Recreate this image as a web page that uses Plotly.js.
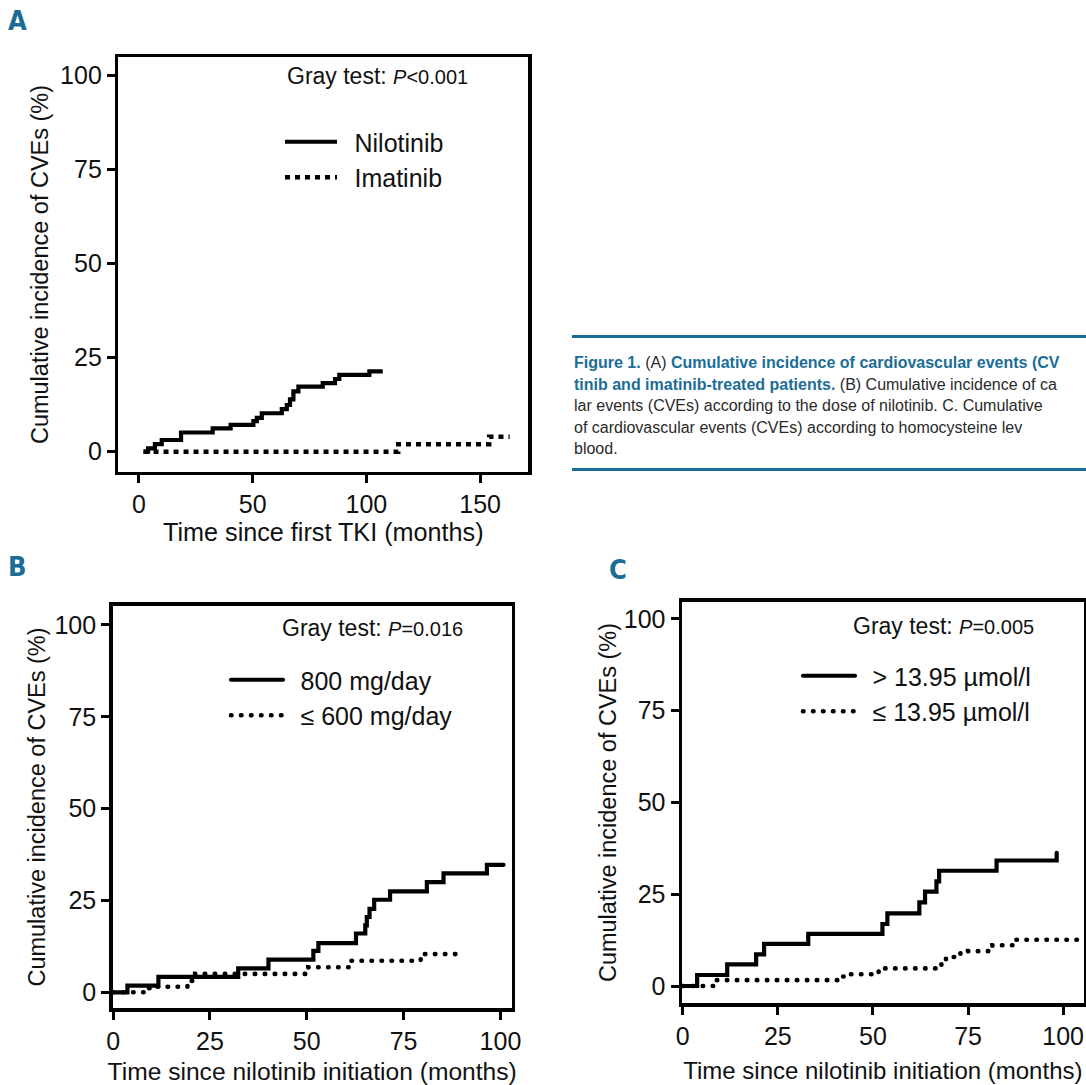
<!DOCTYPE html>
<html>
<head>
<meta charset="utf-8">
<script src="https://cdn.plot.ly/plotly-3.0.1.min.js"></script>
<style>
  html, body { margin: 0; padding: 0; background: #fff; }
  #chart { width: 1086px; height: 1085px; }
  .subplot.x2y2 .scatterlayer .js-line, .subplot.x3y3 .scatterlayer .js-line,
  g.legend2 path.js-line, g.legend3 path.js-line { stroke-linecap: round; }
</style>
</head>
<body>
<div id="chart"></div>
<script>
// ---- Panel A: time since first TKI (months) ----
const nilotinibX = [2, 4, 7, 10, 18.5, 32.4, 40.3, 50.3, 51.8, 54, 62.8, 65, 66.4, 67.9, 70.1, 80.8, 86.2, 88.1, 101.3, 107.2];
const nilotinibY = [0, 0.9, 2.0, 3.1, 5.1, 6.2, 7.1, 8.1, 9.0, 10.2, 11.3, 12.4, 13.9, 16.0, 17.3, 18.2, 19.3, 20.4, 21.3, 21.3];
const imatinibX = [2, 114, 154, 163];
const imatinibY = [0, 2.0, 4.0, 4.0];

// ---- Panel B: dose of nilotinib ----
const dose800X = [0, 3.7, 11.7, 32.3, 40.1, 51.7, 53.0, 62.7, 65.1, 65.5, 66.2, 67.4, 71.5, 81.0, 85.3, 96.5, 100.8];
const dose800Y = [0, 1.8, 4.2, 6.5, 8.9, 11.3, 13.4, 16.0, 18.2, 20.5, 22.7, 25.2, 27.5, 30.0, 32.4, 34.7, 34.7];
const dose600X = [0, 8.2, 10.4, 19.2, 21.2, 50.4, 61.2, 79.4, 90.3];
const dose600Y = [0, 1.1, 1.5, 3.1, 5.0, 6.8, 8.6, 10.4, 10.4];

// ---- Panel C: homocysteine level ----
const hcyHighX = [0, 3.8, 11.7, 19.3, 21.4, 33.0, 52.5, 53.8, 62.2, 63.7, 66.7, 67.4, 82.5, 98.3];
const hcyHighY = [0, 3.0, 5.9, 8.6, 11.5, 14.2, 16.9, 19.8, 22.8, 25.7, 28.5, 31.4, 34.2, 36.3];
const hcyLowX = [0, 8.5, 41, 43, 51.5, 66.5, 68, 69.2, 73, 75, 81.4, 87.6, 104];
const hcyLowY = [0, 1.6, 2.6, 3.2, 4.8, 5.4, 6.6, 7.9, 9.0, 9.5, 11.1, 12.6, 12.6];

const labelsA = ['Nilotinib', 'Imatinib'];
const labelsB = ['800 mg/day', '\u2264 600 mg/day'];
const labelsC = ['> 13.95 \u00b5mol/l', '\u2264 13.95 \u00b5mol/l'];
const pValues = ['<i>P</i>&lt;0.001', '<i>P</i>=0.016', '<i>P</i>=0.005'];
const panelLetters = ['A', 'B', 'C'];
const yTitle = 'Cumulative incidence of CVEs (%)';
const xTitles = ['Time since first TKI (months)', 'Time since nilotinib initiation (months)', 'Time since nilotinib initiation (months)'];
const captionLines = [
  '<b><span style="color:#1b6d96">Figure 1.</span></b> (A) <b><span style="color:#1b6d96">Cumulative incidence of cardiovascular events (CV</span></b>',
  '<b><span style="color:#1b6d96">tinib and imatinib-treated patients.</span></b> (B) Cumulative incidence of ca',
  'lar events (CVEs) according to the dose of nilotinib. C. Cumulative',
  'of cardiovascular events (CVEs) according to homocysteine lev',
  'blood.'
];

const W = 1086, H = 1085;
const FONT = '"Liberation Sans", Arial, sans-serif';
const TEAL = '#1b6d96';
const px = v => v / W;
const py = v => 1 - v / H;
const GAP = '\u2002';

const solid = {color: '#000', width: 4.2, shape: 'hv'};
const squareDots = {color: '#000', width: 4.5, shape: 'hv', dash: '5px,5px'};
const roundDots = {color: '#000', width: 4.6, shape: 'hv', dash: '0.5px,9.5px'};

const traces = [
  {x: nilotinibX, y: nilotinibY, name: GAP + labelsA[0], mode: 'lines', line: solid, xaxis: 'x', yaxis: 'y', legend: 'legend'},
  {x: imatinibX, y: imatinibY, name: GAP + labelsA[1], mode: 'lines', line: squareDots, xaxis: 'x', yaxis: 'y', legend: 'legend'},
  {x: dose800X, y: dose800Y, name: GAP + labelsB[0], mode: 'lines', line: solid, xaxis: 'x2', yaxis: 'y2', legend: 'legend2'},
  {x: dose600X, y: dose600Y, name: GAP + labelsB[1], mode: 'lines', line: roundDots, xaxis: 'x2', yaxis: 'y2', legend: 'legend2'},
  {x: hcyHighX, y: hcyHighY, name: GAP + labelsC[0], mode: 'lines', line: solid, xaxis: 'x3', yaxis: 'y3', legend: 'legend3'},
  {x: hcyLowX, y: hcyLowY, name: GAP + labelsC[1], mode: 'lines', line: roundDots, xaxis: 'x3', yaxis: 'y3', legend: 'legend3'}
];

function axis(extra) {
  return Object.assign({
    showline: true, linewidth: 3.5, linecolor: '#000', mirror: true,
    ticks: 'outside', ticklen: 8, tickwidth: 3, tickcolor: '#000',
    showgrid: false, zeroline: false, fixedrange: true,
    tickfont: {family: FONT, size: 25, color: '#111'}
  }, extra);
}

function legendBox(x, y) {
  return {
    x: px(x), y: py(y), xanchor: 'left', yanchor: 'top',
    bgcolor: 'rgba(0,0,0,0)', borderwidth: 0, itemwidth: 52,
    font: {family: FONT, size: 25, color: '#111'},
    tracegroupgap: 0
  };
}

const annotations = [];
// panel letters
[[17, 20], [17, 566], [618, 569]].forEach((p, i) => {
  annotations.push({xref: 'paper', yref: 'paper', x: px(p[0]), y: py(p[1]), xanchor: 'center', yanchor: 'middle',
    text: '<b>' + panelLetters[i] + '</b>', showarrow: false,
    font: {family: '"DejaVu Sans Condensed", "Liberation Sans", sans-serif', size: 27, color: TEAL}});
});
// Gray test
[[285, 76, 0], [280, 628, 1], [851, 626, 2]].forEach(p => {
  annotations.push({xref: 'paper', yref: 'paper', x: px(p[0]), y: py(p[1]), xanchor: 'left', yanchor: 'middle',
    text: 'Gray test: <span style="font-size:20px">' + pValues[p[2]] + '</span>', showarrow: false,
    font: {family: FONT, size: 23, color: '#111'}});
});
// caption
const capY = [362.5, 384, 405.5, 427, 448.5];
captionLines.forEach((t, i) => {
  annotations.push({xref: 'paper', yref: 'paper', x: px(572), y: py(capY[i]), xanchor: 'left', yanchor: 'middle',
    text: t, showarrow: false, align: 'left',
    font: {family: FONT, size: 16, color: '#2a2a2a'}});
});

const shapes = [
  {type: 'line', xref: 'paper', yref: 'paper', x0: px(572), x1: 1, y0: py(336.5), y1: py(336.5), line: {color: TEAL, width: 3}},
  {type: 'line', xref: 'paper', yref: 'paper', x0: px(572), x1: 1, y0: py(469.5), y1: py(469.5), line: {color: TEAL, width: 3}}
];

const titleFontY = {family: FONT, size: 23.5, color: '#111'};
const titleFontXA = {family: FONT, size: 25.2, color: '#111'};
const titleFontXB = {family: FONT, size: 24.6, color: '#111'};
const titleFontXC = {family: FONT, size: 24, color: '#111'};

const layout = {
  width: W, height: H,
  margin: {l: 0, r: 0, t: 0, b: 0},
  paper_bgcolor: '#fff', plot_bgcolor: '#fff',
  font: {family: FONT, color: '#111'},
  showlegend: true,
  xaxis: axis({domain: [px(118.3), px(528.3)], range: [-9.1, 171.2], dtick: 50, anchor: 'y',
    title: {text: xTitles[0], font: titleFontXA, standoff: 5}}),
  yaxis: axis({domain: [py(471.7), py(57.3)], range: [-5.31, 104.7], dtick: 25, anchor: 'x',
    title: {text: yTitle, font: titleFontY, standoff: 6}}),
  xaxis2: axis({domain: [px(112.7), px(511.7)], range: [-0.1, 102.9], dtick: 25, anchor: 'y2',
    title: {text: xTitles[1], font: titleFontXB, standoff: 14}}),
  yaxis2: axis({domain: [py(1008.3), py(605.7)], range: [-4.36, 105.25], dtick: 25, anchor: 'x2',
    title: {text: yTitle, font: titleFontY, standoff: 3}}),
  xaxis3: axis({domain: [px(682), px(1083.7)], range: [-0.18, 105.4], dtick: 25, anchor: 'y3',
    title: {text: xTitles[2], font: titleFontXC, standoff: 14}}),
  yaxis3: axis({domain: [py(1003.3), py(601.7)], range: [-4.71, 104.7], dtick: 25, anchor: 'x3',
    title: {text: yTitle, font: titleFontY, standoff: 1}}),
  legend: legendBox(280, 119),
  legend2: legendBox(226, 657),
  legend3: legendBox(798, 653),
  annotations: annotations,
  shapes: shapes
};

Plotly.newPlot('chart', traces, layout, {displayModeBar: false, staticPlot: true});
</script>
</body>
</html>
